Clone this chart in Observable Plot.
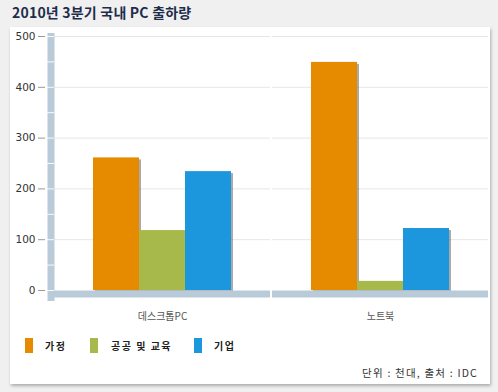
<!DOCTYPE html>
<html>
<head>
<meta charset="utf-8">
<script src="https://cdn.jsdelivr.net/npm/d3@7"></script>
<script src="https://cdn.jsdelivr.net/npm/@observablehq/plot@0.6"></script>
<style>
  html, body { margin: 0; padding: 0; }
  body { width: 498px; height: 392px; background: #f0f0f0; position: relative; overflow: hidden;
         font-family: "Noto Sans CJK KR", "Noto Sans", sans-serif; }
  #title { position: absolute; left: 12px; top: 2px; font-size: 14px; font-weight: bold; color: #1e2d4a; letter-spacing: 0.2px; }
  #panel { position: absolute; left: 10px; top: 27px; width: 480px; height: 357px; background: #fff;
           box-shadow: 1px 2px 3px rgba(0,0,0,0.28); }
  #chart { position: absolute; left: 0; top: 0; }
  #legend { position: absolute; left: 15px; top: 311px; height: 15px; }
  .sw { position: absolute; left: 0; top: 0; width: 8px; height: 15px; }
  .lab { position: absolute; top: 0; line-height: 15px; font-size: 10px; font-weight: bold; color: #222; white-space: nowrap; letter-spacing: 1.5px; }
  #note { position: absolute; right: 12px; top: 338px; font-size: 10.5px; color: #333; white-space: nowrap; letter-spacing: 1.2px; }
</style>
</head>
<body>
<div id="title">2010년 3분기 국내 PC 출하량</div>
<div id="panel">
  <div id="chart"></div>
  <div id="legend"></div>
  <div id="note">단위 : 천대, 출처 : IDC</div>
</div>
<script>
const categories = ["데스크톱PC", "노트북"];
const series = ["가정", "공공 및 교육", "기업"];
const colors = ["#e68a00", "#a7b94b", "#1c96dc"];
const home = [261, 449];
const publicEdu = [118, 18];
const business = [234, 122];
const yTicks = [0, 100, 200, 300, 400, 500];
const gridTicks = [100, 200, 300, 400, 500];
const wallTicks = [0, 50, 100, 150, 200, 250, 300, 350, 400, 450, 500];

const valuesBySeries = [home, publicEdu, business];
const data = [];
categories.forEach((cat, i) => {
  series.forEach((s, j) => {
    data.push({cat, series: s, value: valuesBySeries[j][i]});
  });
});

const chart = Plot.plot({
  width: 480,
  height: 300,
  marginTop: 9,
  marginBottom: 37,
  marginLeft: 44,
  marginRight: 2,
  style: {fontFamily: '"Noto Sans CJK KR", "Noto Sans", sans-serif', fontSize: "11px", background: "transparent", overflow: "visible"},
  fx: {domain: categories, paddingInner: 0.01, paddingOuter: 0, label: null},
  x: {domain: series, paddingInner: 0, paddingOuter: 0.8, axis: null},
  y: {domain: [0, 500], label: null},
  color: {domain: series, range: colors},
  marks: [
    Plot.gridY(gridTicks, {stroke: "#e6e6e6", strokeOpacity: 1}),
    Plot.barY(data, {fx: "cat", x: "series", y: "value", fill: "#555", fillOpacity: 0.5, dx: 2, dy: 2}),
    Plot.barY(data, {fx: "cat", x: "series", y: "value", fill: "series"}),
    Plot.ruleY([0], {stroke: "#b9cad9", strokeWidth: 7, dy: 3.5}),
    Plot.frame({anchor: "left", stroke: "#b9cad9", strokeWidth: 7, dx: -3.5, insetBottom: -7, facet: "super"}),
    Plot.axisY(wallTicks, {tickSize: 7, stroke: "white", strokeOpacity: 0.9, text: null}),
    Plot.axisY(yTicks, {tickSize: 7, tickPadding: 3, dx: -9, stroke: "#999", fill: "#333", fontFamily: '"DejaVu Sans", sans-serif', fontSize: 10.5, label: null}),
    Plot.axisFx({anchor: "bottom", tickSize: 0, tickPadding: 22, fill: "#555", fontSize: 10, label: null})
  ]
});
document.getElementById("chart").appendChild(chart);

const legend = document.getElementById("legend");
const positions = [[0, 20], [65, 86], [169, 189]];
series.forEach((s, i) => {
  const sw = document.createElement("div");
  sw.className = "sw";
  sw.style.left = positions[i][0] + "px";
  sw.style.background = colors[i];
  legend.appendChild(sw);
  const lab = document.createElement("div");
  lab.className = "lab";
  lab.style.left = positions[i][1] + "px";
  lab.textContent = s;
  legend.appendChild(lab);
});
</script>
</body>
</html>
